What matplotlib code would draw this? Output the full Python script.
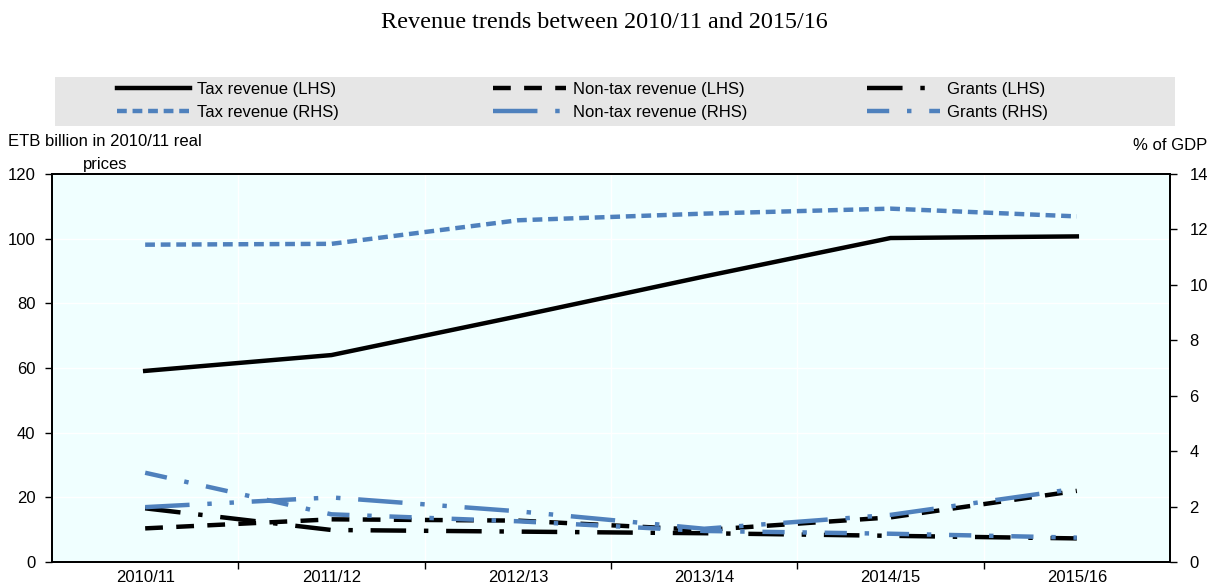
import matplotlib.pyplot as plt
from matplotlib.patches import Rectangle
import numpy as np

plt.rcParams['font.family'] = ['Liberation Sans', 'DejaVu Sans']

years = ["2010/11", "2011/12", "2012/13", "2013/14", "2014/15", "2015/16"]

# LHS: ETB billion in 2010/11 real prices
tax_lhs = [59.1, 64.0, 76.0, 88.3, 100.2, 100.7]
nontax_lhs = [10.4, 13.2, 12.8, 9.9, 13.8, 22.0]
grants_lhs = [16.6, 9.9, 9.4, 8.9, 8.1, 7.3]

# RHS: % of GDP
tax_rhs = [11.45, 11.48, 12.33, 12.57, 12.75, 12.47]
nontax_rhs = [1.98, 2.33, 1.83, 1.20, 1.70, 2.65]
grants_rhs = [3.22, 1.72, 1.47, 1.12, 1.02, 0.88]

BLUE = "#4F81BD"
BG = "#F0FFFF"
FS = 12

fig = plt.figure(figsize=(12.08, 5.85), dpi=100)
ax = fig.add_axes([52/1208, 1-562/585, (1170-52)/1208, (562-174)/585])
ax2 = ax.twinx()

x = np.arange(len(years))
lw = 3.2

ax.set_facecolor(BG)
ax.set_zorder(0)
ax2.set_zorder(1)
ax2.patch.set_visible(False)

l1, = ax.plot(x, tax_lhs, color="black", lw=lw, label="Tax revenue (LHS)")
l2, = ax.plot(x, nontax_lhs, color="black", lw=lw, dashes=(4, 3), label="Non-tax revenue (LHS)")
l3, = ax.plot(x, grants_lhs, color="black", lw=lw, dashes=(8, 4, 1, 4), label="Grants (LHS)")

r1, = ax2.plot(x, tax_rhs, color=BLUE, lw=lw, dashes=(2.2, 1.3), label="Tax revenue (RHS)")
r2, = ax2.plot(x, nontax_rhs, color=BLUE, lw=lw, dashes=(10, 4, 1, 4, 1, 4), label="Non-tax revenue (RHS)")
r3, = ax2.plot(x, grants_rhs, color=BLUE, lw=lw, dashes=(5, 4, 1, 4), label="Grants (RHS)")

ax.set_xlim(-0.5, len(years) - 0.5)
ax.set_ylim(0, 120)
ax2.set_ylim(0, 14)
ax.set_yticks(np.arange(0, 121, 20))
ax2.set_yticks(np.arange(0, 15, 2))

ax.set_xticks(x)
ax.set_xticklabels(years)
ax.set_xticks(np.arange(0.5, len(years) - 1, 1), minor=True)
ax.tick_params(axis="x", which="major", length=0, labelsize=FS, pad=6)
ax.tick_params(axis="x", which="minor", length=5, width=1, direction="out")
ax.tick_params(axis="y", length=5, width=1, labelsize=FS, pad=7)
ax2.tick_params(axis="y", length=5, width=1, labelsize=FS, pad=9)

ax.grid(True, axis="y", color="white", lw=1)
ax.grid(True, axis="x", which="minor", color="white", lw=1)
ax.set_axisbelow(True)

for a in (ax, ax2):
    for s in a.spines.values():
        s.set_linewidth(1.3)
        s.set_color("black")

# legend band
fig.patches.append(Rectangle((55/1208, 1-126/585), (1175-55)/1208, 49/585,
                             transform=fig.transFigure, facecolor="#E6E6E6",
                             edgecolor="none", zorder=0))
cols = [[l1, r1], [l2, r2], [l3, r3]]
col_x = [117, 493, 867]
for hs, cx in zip(cols, col_x):
    leg = fig.legend(hs, [h.get_label() for h in hs], loc="center left",
                     bbox_to_anchor=(cx/1208, 1-101/585), frameon=False,
                     fontsize=FS, handlelength=4.4, handletextpad=0.4,
                     labelspacing=0.5, borderpad=0, borderaxespad=0)

fig.text(0.5, 1-22/585, "Revenue trends between 2010/11 and 2015/16",
         ha="center", va="center", fontsize=17.4, family="Liberation Serif")
fig.text(105/1208, 1-142/585, "ETB billion in 2010/11 real", ha="center",
         va="center", fontsize=FS)
fig.text(105/1208, 1-164/585, "prices", ha="center", va="center", fontsize=FS)
fig.text(1207/1208, 1-146/585, "% of GDP", ha="right", va="center", fontsize=FS)

fig.savefig("out.png", dpi=100)
